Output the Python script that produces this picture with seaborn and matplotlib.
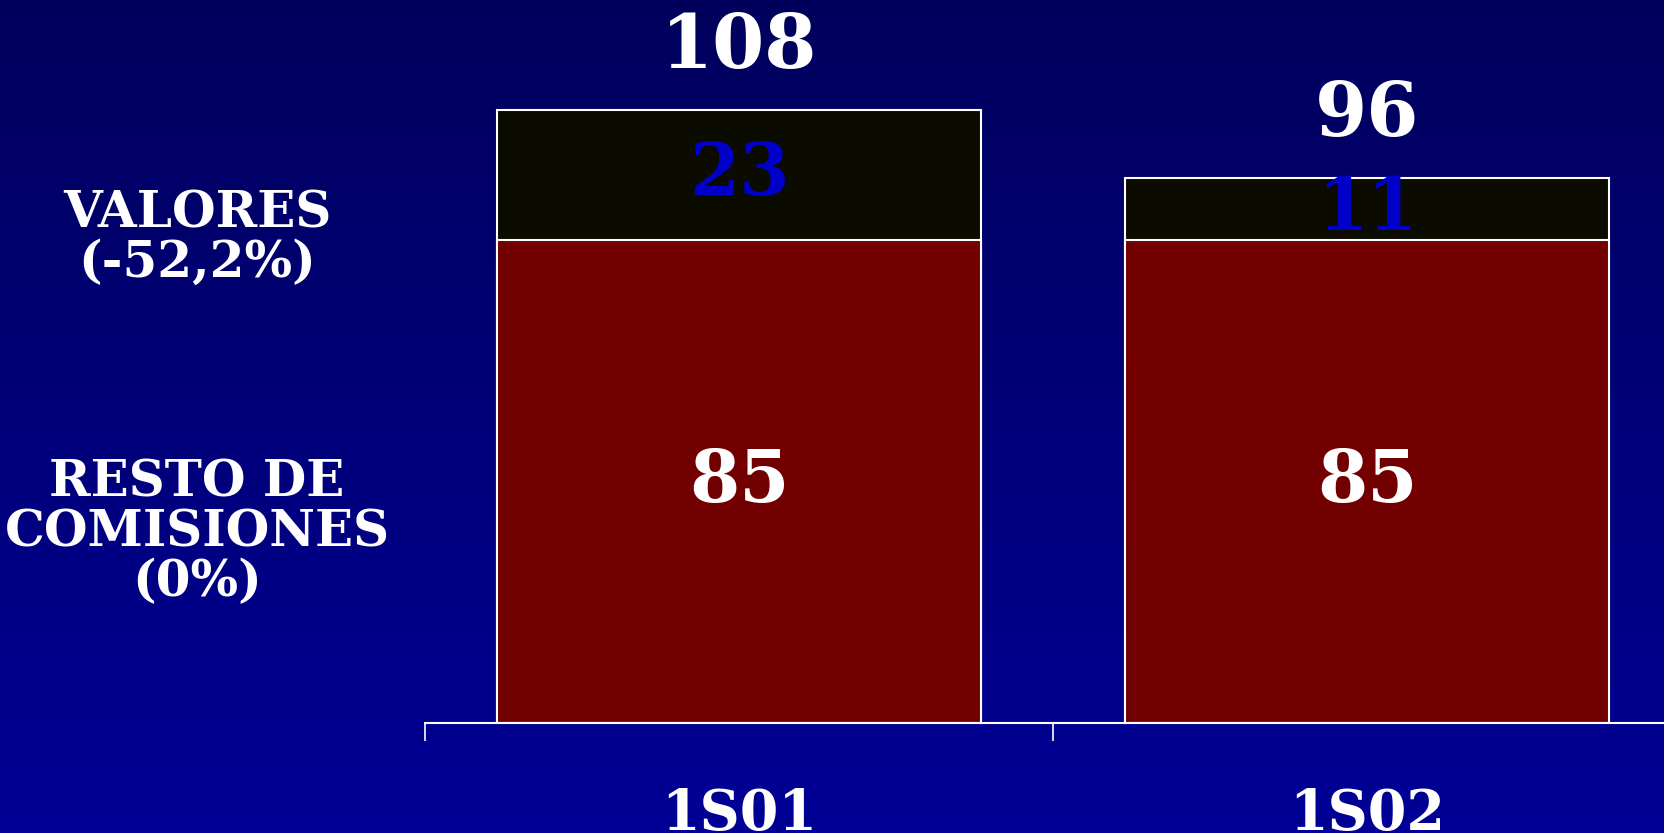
import numpy as np
import pandas as pd
import matplotlib
matplotlib.use("Agg")
import matplotlib.pyplot as plt
from matplotlib.colors import LinearSegmentedColormap
import seaborn as sns

# ---------------------------------------------------------------------------
# Data
# ---------------------------------------------------------------------------
categories = ["1S01", "1S02"]
resto_comisiones = [85, 85]
valores = [23, 11]
label_valores = "VALORES\n(-52,2%)"
label_resto = "RESTO DE\nCOMISIONES\n(0%)"

RED = "#730000"
DARK = "#0b0b00"
BLUE_TXT = "#0000c8"
FONT = "DejaVu Serif"

totals = [r + v for r, v in zip(resto_comisiones, valores)]
df = pd.DataFrame({"periodo": categories, "resto": resto_comisiones,
                   "valores": valores, "total": totals})

sns.set_style("white")
plt.rcParams["font.family"] = [FONT, "DejaVu Sans"]
plt.rcParams["font.weight"] = "bold"

fig = plt.figure(figsize=(16.65, 8.33), dpi=100)

# gradient background
bg = fig.add_axes([0, 0, 1, 1], zorder=-10)
cmap = LinearSegmentedColormap.from_list("bg", ["#00005c", "#000096"])
bg.imshow(np.linspace(0, 1, 256).reshape(-1, 1), aspect="auto", cmap=cmap,
          extent=[0, 1, 0, 1])
bg.set_axis_off()

ax = fig.add_axes([425 / 1665, 110 / 833, 1 - 425 / 1665, 1 - 110 / 833])
ax.set_facecolor("none")

# totals first (dark top segment), then the red base drawn over it
sns.barplot(data=df, x="periodo", y="total", color=DARK, saturation=1,
            width=0.77, edgecolor="white", linewidth=1.5, ax=ax)
sns.barplot(data=df, x="periodo", y="resto", color=RED, saturation=1,
            width=0.77, edgecolor="white", linewidth=1.5, ax=ax)

ax.set_xlabel("")
ax.set_ylabel("")
ax.set_yticks([])
for s in ("left", "top", "right"):
    ax.spines[s].set_visible(False)
ax.spines["bottom"].set_color("white")
ax.spines["bottom"].set_linewidth(1.5)

# boundary ticks between categories, labels as minor ticks
ax.set_xticks([-0.5, 0.5, 1.5])
ax.set_xticklabels([])
ax.tick_params(axis="x", which="major", bottom=True, direction="out",
               length=13, width=1.2, color="white")
ax.set_xticks(range(len(categories)), minor=True)
ax.set_xticklabels(categories, minor=True)
ax.tick_params(axis="x", which="minor", bottom=True, length=0, pad=46,
               labelsize=40, labelcolor="white")

# limits last: set_xticks widens the view
ax.set_xlim(-0.5, 1.4745)
ax.set_ylim(0, 127.3)

for i in range(len(categories)):
    ax.text(i, resto_comisiones[i] / 2, str(resto_comisiones[i]),
            ha="center", va="center", color="white", fontsize=52,
            fontweight="bold")
    ax.text(i, resto_comisiones[i] + valores[i] / 2, str(valores[i]),
            ha="center", va="center", color=BLUE_TXT, fontsize=52,
            fontweight="bold")
    ax.text(i, totals[i] + 11, str(totals[i]), ha="center", va="center",
            color="white", fontsize=54, fontweight="bold")

fig.text(197 / 1665, 1 - 239 / 833, label_valores, ha="center", va="center",
         color="white", fontsize=36, fontweight="bold", linespacing=1.0)
fig.text(197 / 1665, 1 - 533 / 833, label_resto, ha="center", va="center",
         color="white", fontsize=36, fontweight="bold", linespacing=1.02)

fig.savefig("out.png", dpi=100)
